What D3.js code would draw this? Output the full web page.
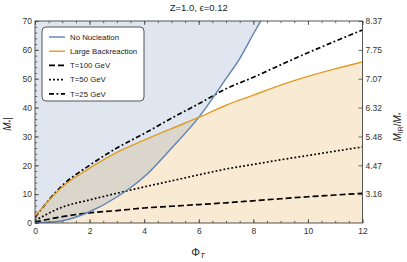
<!DOCTYPE html>
<html>
<head>
<meta charset="utf-8">
<script src="https://cdn.jsdelivr.net/npm/d3@7"></script>
<style>
  body { margin: 0; background: #fff; }
  svg { font-family: "Liberation Sans", Arial, sans-serif; }
</style>
</head>
<body>
<svg width="407" height="262"></svg>
<script>
// values
const noNucleation = [[0,0],[1,0.8],[2,3.9],[3,9],[4,16],[5,25.9],[6,36.6],[7,50],[7.5,57],[8,65.5],[8.3,70.5]];
const largeBackreaction = [[0,2.4],[1,12.5],[2,19],[3,24.5],[4,28.7],[5,32.7],[6,36.6],[7,40.8],[8,44.3],[9,47.8],[10,50.8],[11,53.4],[12,55.8]];
const t100 = [[0,0.3],[1,2.2],[2,3.5],[3,4.3],[4,5.2],[5,5.8],[6,6.4],[7,7],[8,7.7],[9,8.4],[10,9.1],[11,9.7],[12,10.3]];
const t50 = [[0,0.8],[1,5.5],[2,8],[3,10.3],[4,12.5],[5,14.6],[6,16.7],[7,18.7],[8,20.3],[9,21.9],[10,23.4],[11,24.9],[12,26.4]];
const t25 = [[0,2],[1,13],[2,20],[3,26],[4,31],[5,36.3],[6,41.3],[7,46.5],[8,50.5],[9,54.8],[10,59],[11,63],[12,66.9]];
const xTicks = [0,2,4,6,8,10,12];
const yTicks = [0,10,20,30,40,50,60,70];
const rightTicks = [10,20,30,40,50,60,70];
const legendItems = ["No Nucleation","Large Backreaction","T=100 GeV","T=50 GeV","T=25 GeV"];

const svg = d3.select("svg");
const m = {left: 35, right: 362.5, top: 21, bottom: 223};

const x = d3.scaleLinear().domain([0,12]).range([m.left, m.right]);
const y = d3.scaleLinear().domain([0,70]).range([m.bottom, m.top]);

const blue = "#5e81b5", orange = "#e19c24";

svg.append("clipPath").attr("id","clip")
  .append("rect")
  .attr("x", m.left).attr("y", m.top)
  .attr("width", m.right - m.left).attr("height", m.bottom - m.top);

const plot = svg.append("g").attr("clip-path","url(#clip)");

// shaded regions
plot.append("path")
  .datum(largeBackreaction)
  .attr("fill", orange).attr("fill-opacity", 0.2)
  .attr("d", d3.area().x(d => x(d[0])).y0(y(0)).y1(d => y(d[1])).curve(d3.curveMonotoneX));

plot.append("path")
  .datum(noNucleation)
  .attr("fill", blue).attr("fill-opacity", 0.2)
  .attr("d", d3.area().x(d => x(d[0])).y0(y(70)).y1(d => y(d[1])).curve(d3.curveMonotoneX));

const line = d3.line().x(d => x(d[0])).y(d => y(d[1])).curve(d3.curveMonotoneX);

let series = [
  {data: t100, color: "#000", width: 1.7, dash: "6,3"},
  {data: t50, color: "#000", width: 1.7, dash: "1.8,2.2"},
  {data: t25, color: "#000", width: 1.7, dash: "5,2.5,1.8,2.5"},
  {data: noNucleation, color: blue, width: 1.4, dash: null},
  {data: largeBackreaction, color: orange, width: 1.4, dash: null}
];

series.forEach(s => {
  plot.append("path")
    .datum(s.data)
    .attr("fill","none")
    .attr("stroke", s.color)
    .attr("stroke-width", s.width)
    .attr("stroke-dasharray", s.dash)
    .attr("d", line);
});

// axes, ticks pointing inward
let styleAxis = g => {
  g.select(".domain").remove();
  g.selectAll("line").attr("stroke","#444").attr("stroke-width",0.8);
  g.selectAll("text").attr("fill","#333").style("font-size","8.5px");
};

svg.append("g").attr("transform",`translate(0,${m.bottom})`)
  .call(d3.axisBottom(x).tickValues(d3.range(0,12.01,0.5)).tickSize(-2.2).tickFormat(""))
  .call(styleAxis);
svg.append("g").attr("transform",`translate(0,${m.bottom})`)
  .call(d3.axisBottom(x).tickValues(xTicks).tickSizeInner(-4).tickSizeOuter(0).tickPadding(5))
  .call(styleAxis);

svg.append("g").attr("transform",`translate(0,${m.top})`)
  .call(d3.axisTop(x).tickValues(d3.range(0,12.01,0.5)).tickSize(-2.2).tickFormat(""))
  .call(styleAxis);
svg.append("g").attr("transform",`translate(0,${m.top})`)
  .call(d3.axisTop(x).tickValues(xTicks).tickSize(-4).tickFormat(""))
  .call(styleAxis);

svg.append("g").attr("transform",`translate(${m.left},0)`)
  .call(d3.axisLeft(y).tickValues(d3.range(0,70.1,2)).tickSize(-2.2).tickFormat(""))
  .call(styleAxis);
svg.append("g").attr("transform",`translate(${m.left},0)`)
  .call(d3.axisLeft(y).tickValues(yTicks).tickSizeInner(-4).tickSizeOuter(0).tickPadding(3))
  .call(styleAxis);

svg.append("g").attr("transform",`translate(${m.right},0)`)
  .call(d3.axisRight(y).tickValues(rightTicks).tickSizeInner(-4).tickSizeOuter(0).tickPadding(3)
    .tickFormat(v => Math.sqrt(v).toFixed(2)))
  .call(styleAxis);

// frame
svg.append("rect")
  .attr("x", m.left).attr("y", m.top)
  .attr("width", m.right - m.left).attr("height", m.bottom - m.top)
  .attr("fill","none").attr("stroke","#444").attr("stroke-width",0.9);

// title and labels
svg.append("text")
  .attr("x", (m.left + m.right)/2).attr("y", 11)
  .attr("text-anchor","middle").attr("fill","#222").style("font-size","9.5px")
  .text("Z=1.0, \u03f5=0.12");

let xl = svg.append("text")
  .attr("x", 198).attr("y", 256)
  .attr("text-anchor","middle").attr("fill","#222").style("font-size","11px");
xl.append("tspan").text("\u03a6");
xl.append("tspan").attr("font-style","italic").attr("dy",2).style("font-size","8px").text("T");

let yl = svg.append("text")
  .attr("transform","translate(11,124) rotate(-90)")
  .attr("text-anchor","middle").attr("fill","#222").style("font-size","10px");
yl.append("tspan").attr("font-style","italic").text("M");
yl.append("tspan").attr("dy",2).style("font-size","7px").text("*");
yl.append("tspan").attr("dy",-2).text("|");

let rl = svg.append("text")
  .attr("transform","translate(401,127) rotate(-90)")
  .attr("text-anchor","middle").attr("fill","#222").style("font-size","10px");
rl.append("tspan").attr("font-style","italic").text("M");
rl.append("tspan").attr("dy",2).style("font-size","7px").text("IR");
rl.append("tspan").attr("dy",-2).text("/");
rl.append("tspan").attr("font-style","italic").text("M");
rl.append("tspan").attr("dy",2).style("font-size","7px").text("*");

// legend
const lg = svg.append("g");
lg.append("rect")
  .attr("x", 42).attr("y", 27).attr("width", 102).attr("height", 74).attr("rx", 4)
  .attr("fill","#fff").attr("stroke","#444").attr("stroke-width",0.9);

const legendStyles = [series[3], series[4], series[0], series[1], series[2]];
legendItems.forEach((name, i) => {
  const ly = 37 + i * 14.2;
  const s = legendStyles[i];
  lg.append("line")
    .attr("x1", 49).attr("x2", 65).attr("y1", ly).attr("y2", ly)
    .attr("stroke", s.color).attr("stroke-width", s.width).attr("stroke-dasharray", s.dash);
  lg.append("text")
    .attr("x", 70).attr("y", ly + 2.8)
    .attr("fill","#222").style("font-size","7.8px")
    .text(name);
});
</script>
</body>
</html>
